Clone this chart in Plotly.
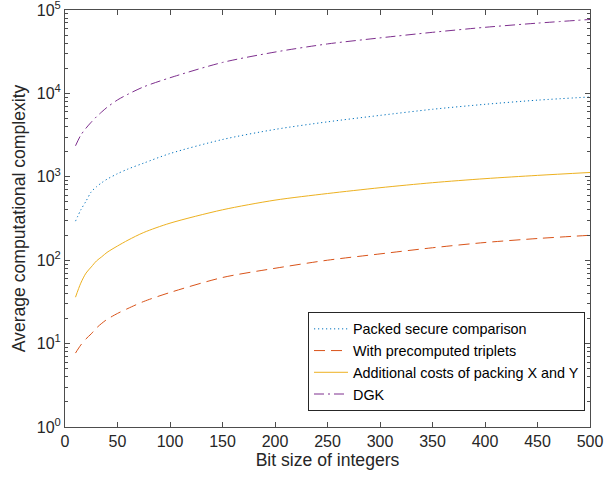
import plotly.graph_objects as go

# Bit sizes of the compared integers
bits = [10, 15, 20, 25, 30, 35, 40, 50, 60, 75, 100, 150, 200, 250, 300, 350, 400, 450, 500]

# Average computational complexity per protocol
packed_secure = [294, 400, 510, 660, 760, 850, 935, 1090, 1240, 1460, 1900, 2800, 3700, 4560,
                 5450, 6450, 7400, 8300, 9060]
precomputed_triplets = [7.7, 9.6, 11.4, 13.1, 15.4, 17.5, 19.5, 23, 26.4, 32, 41, 62, 80, 100,
                        119, 141, 163, 182, 199]
packing_costs = [36, 53, 70, 83, 98, 110, 124, 148, 174, 215, 278, 402, 525, 630,
                 740, 850, 950, 1040, 1127]
dgk = [2355, 3150, 3830, 4520, 5250, 6000, 6800, 8350, 9780, 12000, 15400, 23500, 31300, 39200,
       46300, 54000, 62000, 69600, 77000]

series_names = [
    "Packed secure comparison",
    "With precomputed triplets",
    "Additional costs of packing X and Y",
    "DGK",
]

x_ticks = [0, 50, 100, 150, 200, 250, 300, 350, 400, 450, 500]
y_ticks = [1, 10, 100, 1000, 10000, 100000]
y_tick_text = ["10<sup>%d</sup>" % i for i in range(6)]
y_minor = [m * 10 ** e for e in range(5) for m in range(2, 10)]

FONT = "Liberation Sans, Arial, Helvetica, sans-serif"
INK = "#262626"
AXIS = "#4d4d4d"

fig = go.Figure()
styles = [
    (packed_secure, "#0072BD", "1.2px,2.8px"),
    (precomputed_triplets, "#D95319", "11px,6px"),
    (packing_costs, "#EDB120", "solid"),
    (dgk, "#7E2F8E", "10px,4px,2px,4px"),
]
for (vals, color, dash), name in zip(styles, series_names):
    fig.add_trace(go.Scatter(
        x=bits, y=vals, name=name, mode="lines",
        line=dict(color=color, width=1, dash=dash, shape="spline", smoothing=0.8),
    ))

fig.update_layout(
    width=605, height=477,
    margin=dict(l=65, r=15, t=10, b=50),
    paper_bgcolor="white", plot_bgcolor="white",
    font=dict(family=FONT, color=INK, size=16),
    showlegend=True,
    legend=dict(
        x=0.9905, y=0.0384, xanchor="right", yanchor="bottom",
        bgcolor="white", bordercolor=INK, borderwidth=1,
        font=dict(size=14.4, color="#000000"),
        itemwidth=34, tracegroupgap=0,
    ),
)

fig.update_xaxes(
    range=[0, 500], tickvals=x_ticks, automargin=False, ticklabeloverflow="allow",
    ticks="inside", ticklen=5, tickwidth=1, tickcolor=AXIS,
    showline=True, linecolor=AXIS, linewidth=1, mirror="ticks",
    showgrid=False, zeroline=False,
    tickfont=dict(size=16, color=INK),
    title=dict(text="Bit size of integers", font=dict(size=17.6, color=INK), standoff=4),
)
fig.update_yaxes(
    type="log", range=[0, 5], tickvals=y_ticks, ticktext=y_tick_text,
    automargin=False, ticklabeloverflow="allow",
    ticks="inside", ticklen=5, tickwidth=1, tickcolor=AXIS,
    minor=dict(tickvals=y_minor, ticks="inside", ticklen=3, tickcolor=AXIS, showgrid=False),
    showline=True, linecolor=AXIS, linewidth=1, mirror="allticks",
    showgrid=False, zeroline=False,
    tickfont=dict(size=16, color=INK),
    title=dict(text="Average computational complexity", font=dict(size=17.6, color=INK), standoff=6),
)

fig.write_html("out.html")
